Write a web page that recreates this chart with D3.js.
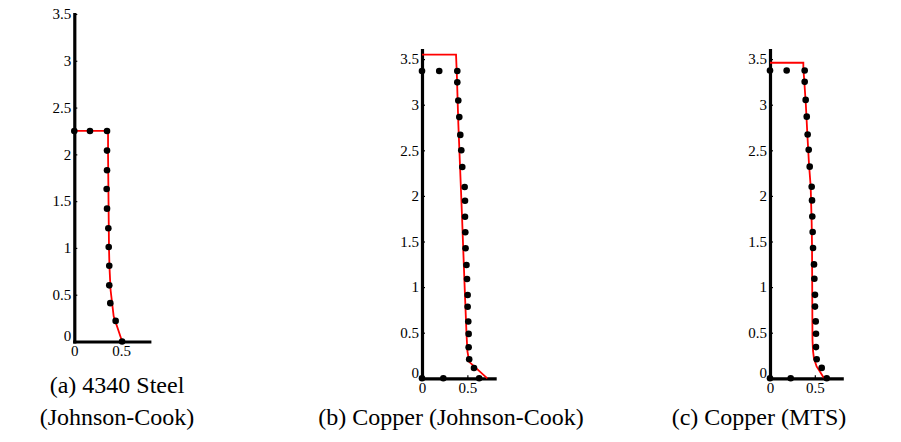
<!DOCTYPE html>
<html><head><meta charset="utf-8">
<script src="https://cdn.jsdelivr.net/npm/d3@7"></script>
<style>
body{margin:0;background:#fff;}
svg{display:block;font-family:"Liberation Serif","Times New Roman",serif;}
.tick text{font-size:15px;}
</style></head>
<body><svg id="c" width="901" height="442"></svg>
<script>
// ---- Data ----
const xTicks = [0, 0.5];
const yTicks = [0, 0.5, 1, 1.5, 2, 2.5, 3, 3.5];

// (a) 4340 Steel (Johnson-Cook)
const steelDotX = [0, 0.167, 0.349, 0.349, 0.349, 0.345, 0.349, 0.363, 0.367, 0.373, 0.373, 0.384, 0.441, 0.51];
const steelDotY = [2.25, 2.25, 2.25, 2.04, 1.83, 1.63, 1.42, 1.21, 1.01, 0.81, 0.60, 0.41, 0.22, 0];
const steelSimX = [0, 0.36, 0.36, 0.365, 0.37, 0.375, 0.387, 0.42, 0.51];
const steelSimY = [2.25, 2.25, 2.0, 1.5, 1.0, 0.8, 0.55, 0.27, 0];

// (b) Copper (Johnson-Cook)
const cuJcDotX = [0, 0.19, 0.389, 0.389, 0.40, 0.411, 0.422, 0.433, 0.444, 0.47, 0.474, 0.474, 0.477, 0.48, 0.49, 0.496, 0.503, 0.503, 0.51, 0.514, 0.514, 0.52, 0.573, 0.63, 0.235, 0];
const cuJcDotY = [3.37, 3.37, 3.37, 3.245, 3.047, 2.864, 2.669, 2.50, 2.317, 2.097, 1.947, 1.771, 1.602, 1.426, 1.243, 1.089, 0.913, 0.784, 0.623, 0.487, 0.341, 0.209, 0.113, 0, 0, 0];
const cuJcSimX = [0, 0.375, 0.385, 0.40, 0.42, 0.44, 0.455, 0.47, 0.49, 0.50, 0.52, 0.72];
const cuJcSimY = [3.55, 3.55, 3.3, 2.8, 2.3, 1.8, 1.4, 1.0, 0.5, 0.3, 0.18, 0];

// (c) Copper (MTS)
const cuMtsDotX = [0, 0.186, 0.387, 0.387, 0.398, 0.41, 0.42, 0.432, 0.443, 0.465, 0.469, 0.472, 0.476, 0.48, 0.491, 0.495, 0.502, 0.502, 0.51, 0.513, 0.513, 0.521, 0.577, 0.633, 0.231, 0];
const cuMtsDotY = [3.375, 3.375, 3.375, 3.251, 3.053, 2.869, 2.674, 2.505, 2.321, 2.10, 1.951, 1.774, 1.605, 1.428, 1.249, 1.091, 0.915, 0.786, 0.624, 0.488, 0.342, 0.209, 0.114, 0, 0, 0];
const cuMtsSimX = [0, 0.372, 0.372, 0.383, 0.40, 0.417, 0.435, 0.454, 0.465, 0.469, 0.472, 0.474, 0.48, 0.49, 0.52, 0.546, 0.603];
const cuMtsSimY = [3.46, 3.46, 3.4, 3.25, 3.0, 2.67, 2.35, 2.1, 1.7, 1.43, 0.79, 0.42, 0.3, 0.22, 0.13, 0.09, 0];

const captionsA = ["(a) 4340 Steel", "(Johnson-Cook)"];
const captionB = ["(b) Copper (Johnson-Cook)"];
const captionC = ["(c) Copper (MTS)"];

// ---- Drawing ----
const svg = d3.select("#c");

function panel(cfg) {
  const g = svg.append("g");
  const x = d3.scaleLinear().domain([0, 0.8]).range([cfg.x0, cfg.x1]);
  const y = d3.scaleLinear().domain([0, cfg.ymax]).range([cfg.y0, cfg.y1]);

  const ya = d3.axisLeft(y).tickValues(yTicks).tickFormat(d3.format("")).tickSize(-3).tickSizeOuter(0).tickPadding(3);
  const xa = d3.axisBottom(x).tickValues(xTicks).tickFormat(d3.format("")).tickSize(-3).tickSizeOuter(0).tickPadding(4);

  const gy = g.append("g").attr("transform", `translate(${cfg.x0},0)`).call(ya);
  const gx = g.append("g").attr("transform", `translate(0,${cfg.y0})`).call(xa);
  [gy, gx].forEach(a => {
    a.attr("font-size", 15).attr("font-family", "'Liberation Serif','Times New Roman',serif");
    a.select(".domain").attr("stroke", "#000").attr("stroke-width", 3.2).attr("stroke-linecap", "square");
    a.selectAll(".tick line").attr("stroke", "#000").attr("stroke-width", 1.2);
    a.selectAll(".tick text").attr("fill", "#000").attr("font-size", 15);
  });
  gy.selectAll(".tick text").filter(d => d === 0).attr("dy", "-0.05em");
  gx.selectAll(".tick text").attr("dy", "0.7em");

  const line = d3.line().x(d => x(d[0])).y(d => y(d[1]));
  const sim = d3.zip(cfg.simX, cfg.simY);
  g.append("path").attr("d", line(sim)).attr("fill", "none").attr("stroke", "#ff0000").attr("stroke-width", 1.8);

  const dots = d3.zip(cfg.dotX, cfg.dotY);
  g.selectAll("circle.pt").data(dots).enter().append("circle")
    .attr("cx", d => x(d[0])).attr("cy", d => y(d[1])).attr("r", 3.3).attr("fill", "#000");

  g.selectAll("text.cap").data(cfg.caption).enter().append("text")
    .attr("x", cfg.capX).attr("y", (d, i) => cfg.capY + i * 32)
    .attr("text-anchor", "middle").style("font-size", "24px").attr("fill", "#000").text(d => d);
}

panel({x0: 74.3, x1: 149.3, y0: 341.5, y1: 14, ymax: 3.5,
  simX: steelSimX, simY: steelSimY, dotX: steelDotX, dotY: steelDotY,
  caption: captionsA, capX: 117, capY: 393});
panel({x0: 422, x1: 494.6, y0: 378.3, y1: 50, ymax: 3.6,
  simX: cuJcSimX, simY: cuJcSimY, dotX: cuJcDotX, dotY: cuJcDotY,
  caption: captionB, capX: 451, capY: 425});
panel({x0: 770, x1: 841.7, y0: 378.3, y1: 50, ymax: 3.6,
  simX: cuMtsSimX, simY: cuMtsSimY, dotX: cuMtsDotX, dotY: cuMtsDotY,
  caption: captionC, capX: 759, capY: 425});
</script></body></html>
